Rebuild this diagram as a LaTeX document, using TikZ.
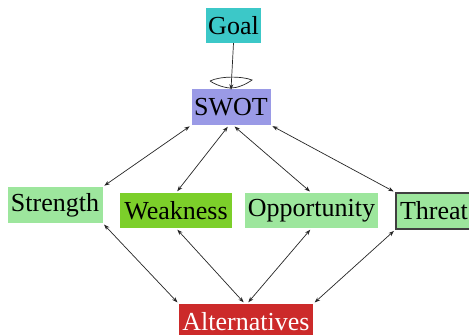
\documentclass[tikz,border=0pt]{standalone}
\usepackage{fontspec}
\setmainfont{Liberation Serif}
\usepackage{xcolor}
\usetikzlibrary{positioning,arrows.meta}

\definecolor{goalc}{HTML}{3CC8C8}
\definecolor{swotc}{HTML}{9A9AE6}
\definecolor{lightg}{HTML}{9DE69D}
\definecolor{weakc}{HTML}{7CCF2A}
\definecolor{altc}{HTML}{CC2A2A}

\begin{document}
\begin{tikzpicture}[x=1pt,y=-1pt,
  box/.style={inner sep=0pt,font=\fontsize{26}{30}\selectfont},
  link/.style={{Stealth[length=5.5pt,width=4pt]}-{Stealth[length=5.5pt,width=4pt]},
    line width=0.7pt,black!85,shorten <=2pt,shorten >=2pt}]
  \fill[white] (0,0) rectangle (469,335);
  \useasboundingbox (0,0) rectangle (469,335);
  \clip (0,0) rectangle (469,335);
  % 节点
  \node[box,fill=goalc,minimum width=55,minimum height=35] (goal) at (233.5,25.5) {Goal};
  \node[box,fill=swotc,minimum width=79,minimum height=36] (swot) at (231,107) {SWOT};
  \node[box,fill=lightg,minimum width=95,minimum height=36] (str) at (55,205) {Strength};
  \node[box,fill=weakc,minimum width=112,minimum height=35] (weak) at (176,210.5) {Weakness};
  \node[box,fill=lightg,minimum width=133,minimum height=35] (opp) at (311.5,210.5) {Opportunity};
  \node[box,fill=lightg,draw=black!75,line width=1.2pt,minimum width=76,minimum height=36] (thr) at (434,211) {Threat};
  \node[box,fill=altc,text=white,minimum width=134,minimum height=36] (alt) at (246,322) {Alternatives};
  % Goal 到 SWOT
  \draw[-{Stealth[length=5.5pt,width=4pt]},line width=0.7pt,black!85] (goal.south) -- ([yshift=-1pt]swot.north);
  \draw[line width=0.7pt,black!85] (210,81) .. controls (220,76) and (242,76) .. (252,80)
    .. controls (245,85) and (237,88) .. (231,88) .. controls (225,88) and (216,85) .. (210,81);
  % SWOT 到四项
  \draw[link] (swot.south west) -- (str.north east);
  \draw[link] ([xshift=-2pt]swot.south) -- (weak.north);
  \draw[link] ([xshift=2pt]swot.south) -- (opp.north);
  \draw[link] (swot.south east) -- (thr.north west);
  % 四项到 Alternatives
  \draw[link] (str.south east) -- (alt.north west);
  \draw[link] (weak.south) -- ([xshift=-1pt]alt.north);
  \draw[link] (opp.south) -- ([xshift=1pt]alt.north);
  \draw[link] (thr.south west) -- (alt.north east);
\end{tikzpicture}
\end{document}
